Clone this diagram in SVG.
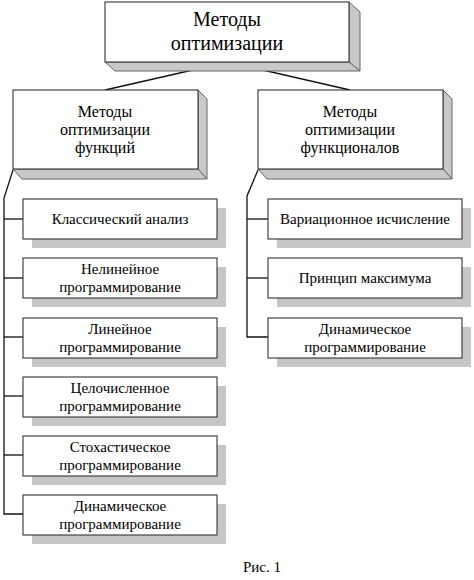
<svg xmlns="http://www.w3.org/2000/svg" width="474" height="580" viewBox="0 0 474 580">
<style>
.face{fill:#fff;stroke:#333;stroke-width:1.1}
.side{fill:#c8c8c8;stroke:#666;stroke-width:1}
.shadow{fill:#c6c6c6;stroke:none}
.con{fill:none;stroke:#111;stroke-width:1.3}
.lbl{fill:#000;text-anchor:middle}
.t1{font-size:20px}
.t2{font-size:16px}
.t3{font-size:15px}
</style>
<rect width="474" height="580" fill="#fff"/>
<g id="connectors">
<polyline class="con" points="105,90 228,62 350,90"/>
<polyline class="con" points="13,170 4,198 4,514 23,514"/>
<line class="con" x1="4" y1="219" x2="23" y2="219"/>
<line class="con" x1="4" y1="278" x2="23" y2="278"/>
<line class="con" x1="4" y1="337" x2="23" y2="337"/>
<line class="con" x1="4" y1="396" x2="23" y2="396"/>
<line class="con" x1="4" y1="455" x2="23" y2="455"/>
<polyline class="con" points="258,170 247,196 247,337 268,337"/>
<line class="con" x1="247" y1="219" x2="268" y2="219"/>
<line class="con" x1="247" y1="278" x2="268" y2="278"/>
</g>
<g font-family="'Liberation Serif', 'DejaVu Serif', serif">
<g id="root">
<polygon class="side" points="349,2 360,12 360,71 349,62"/>
<polygon class="side" points="105,62 349,62 360,71 115,71"/>
<rect class="face" x="105" y="2" width="244" height="60"/>
<text class="lbl t1" x="227" y="26">Методы</text>
<text class="lbl t1" x="227" y="50">оптимизации</text>
</g>
<g id="func">
<polygon class="side" points="198,90 207,99 207,179 198,169"/>
<polygon class="side" points="13,169 198,169 207,179 22,179"/>
<rect class="face" x="13" y="90" width="185" height="79"/>
<text class="lbl t2" x="105" y="117">Методы</text>
<text class="lbl t2" x="105" y="135">оптимизации</text>
<text class="lbl t2" x="105" y="153">функций</text>
</g>
<g id="functional">
<polygon class="side" points="443,90 452,99 452,179 443,169"/>
<polygon class="side" points="258,169 443,169 452,179 267,179"/>
<rect class="face" x="258" y="90" width="185" height="79"/>
<text class="lbl t2" x="350" y="117">Методы</text>
<text class="lbl t2" x="350" y="135">оптимизации</text>
<text class="lbl t2" x="350" y="153">функционалов</text>
</g>
<g id="classic">
<rect class="shadow" x="32" y="208" width="194" height="40"/>
<rect class="face" x="23" y="199" width="194" height="40"/>
<text class="lbl t3" x="120" y="224">Классический анализ</text>
</g>
<g id="nonlinear">
<rect class="shadow" x="32" y="267" width="194" height="40"/>
<rect class="face" x="23" y="258" width="194" height="40"/>
<text class="lbl t3" x="120" y="274">Нелинейное</text>
<text class="lbl t3" x="120" y="292">программирование</text>
</g>
<g id="linear">
<rect class="shadow" x="32" y="327" width="194" height="40"/>
<rect class="face" x="23" y="318" width="194" height="40"/>
<text class="lbl t3" x="120" y="334">Линейное</text>
<text class="lbl t3" x="120" y="352">программирование</text>
</g>
<g id="integer">
<rect class="shadow" x="32" y="386" width="194" height="40"/>
<rect class="face" x="23" y="377" width="194" height="40"/>
<text class="lbl t3" x="120" y="393">Целочисленное</text>
<text class="lbl t3" x="120" y="411">программирование</text>
</g>
<g id="stochastic">
<rect class="shadow" x="32" y="445" width="194" height="40"/>
<rect class="face" x="23" y="436" width="194" height="40"/>
<text class="lbl t3" x="120" y="452">Стохастическое</text>
<text class="lbl t3" x="120" y="470">программирование</text>
</g>
<g id="dynamic-left">
<rect class="shadow" x="32" y="504" width="194" height="40"/>
<rect class="face" x="23" y="495" width="194" height="40"/>
<text class="lbl t3" x="120" y="511">Динамическое</text>
<text class="lbl t3" x="120" y="529">программирование</text>
</g>
<g id="variational">
<rect class="shadow" x="277" y="208" width="194" height="40"/>
<rect class="face" x="268" y="199" width="194" height="40"/>
<text class="lbl t3" x="365" y="224">Вариационное исчисление</text>
</g>
<g id="maximum">
<rect class="shadow" x="277" y="267" width="194" height="40"/>
<rect class="face" x="268" y="258" width="194" height="40"/>
<text class="lbl t3" x="365" y="283">Принцип максимума</text>
</g>
<g id="dynamic-right">
<rect class="shadow" x="277" y="327" width="194" height="40"/>
<rect class="face" x="268" y="318" width="194" height="40"/>
<text class="lbl t3" x="365" y="334">Динамическое</text>
<text class="lbl t3" x="365" y="352">программирование</text>
</g>
<text class="lbl t3" x="262" y="572">Рис. 1</text>
</g>
</svg>
